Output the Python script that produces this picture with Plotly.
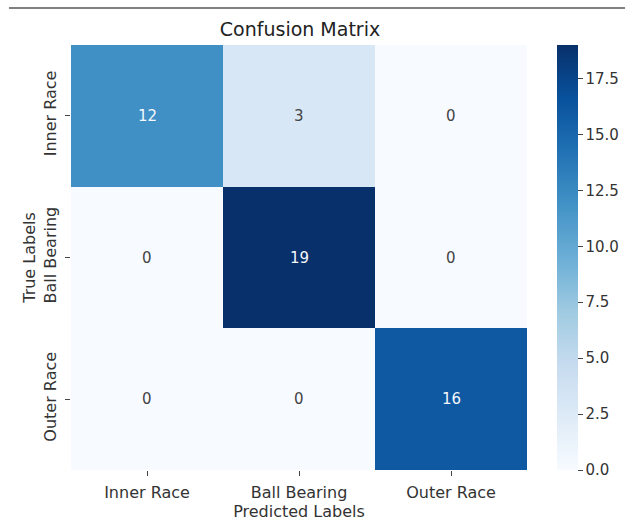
import plotly.graph_objects as go
import plotly.express as px

# Confusion matrix of the bearing fault classifier
classes = ["Inner Race", "Ball Bearing", "Outer Race"]
counts = [
    [12, 3, 0],
    [0, 19, 0],
    [0, 0, 16],
]
cbar_ticks = [0.0, 2.5, 5.0, 7.5, 10.0, 12.5, 15.0, 17.5]

zmin = 0
zmax = max(max(r) for r in counts)
blues = px.colors.sequential.Blues

W, H = 625, 527
L, R, T, B = 71, 98, 45, 57
plot_w = W - L - R
plot_h = H - T - B

fig = go.Figure(
    go.Heatmap(
        z=counts,
        x=classes,
        y=classes,
        colorscale=blues,
        zmin=zmin,
        zmax=zmax,
        hoverinfo="skip",
        colorbar=dict(
            x=(557 - L) / plot_w,
            xanchor="left",
            xpad=0,
            ypad=0,
            y=0.5,
            yanchor="middle",
            len=1.0,
            lenmode="fraction",
            thickness=21,
            outlinewidth=0,
            tickvals=cbar_ticks,
            ticktext=[f"{v:.1f}" for v in cbar_ticks],
            ticks="outside",
            ticklen=5,
            tickcolor="#444",
            tickfont=dict(family="DejaVu Sans", size=15, color="#333"),
        ),
    )
)

# Cell counts, light text on dark cells and dark text on light cells
for i, row in enumerate(counts):
    for j, v in enumerate(row):
        frac = (v - zmin) / (zmax - zmin)
        fig.add_annotation(
            x=classes[j],
            y=classes[i],
            text=str(v),
            showarrow=False,
            font=dict(
                family="DejaVu Sans",
                size=15,
                color="#f4f8fc" if frac > 0.5 else "#444",
            ),
        )

# Thin rule along the top of the figure
rule_y = 1 + (T - 8) / plot_h
fig.add_shape(
    type="line",
    xref="paper",
    yref="paper",
    x0=(9 - L) / plot_w,
    x1=(W - L) / plot_w,
    y0=rule_y,
    y1=rule_y,
    line=dict(color="#808080", width=2),
)

fig.update_layout(
    width=W,
    height=H,
    margin=dict(l=L, r=R, t=T, b=B, autoexpand=False),
    paper_bgcolor="white",
    plot_bgcolor="white",
    font=dict(family="DejaVu Sans", size=16, color="#333"),
    title=dict(
        text="Confusion Matrix",
        x=300 / W,
        xanchor="center",
        y=1 - 29 / H,
        yanchor="middle",
        font=dict(family="DejaVu Sans", size=19, color="#222"),
    ),
    xaxis=dict(
        title=dict(text="Predicted Labels", standoff=2,
                   font=dict(size=16, color="#333")),
        ticks="outside",
        ticklen=5,
        tickcolor="#444",
        ticklabelstandoff=3,
        showgrid=False,
        zeroline=False,
        tickfont=dict(size=16, color="#333"),
    ),
    yaxis=dict(
        title=dict(text="True Labels", standoff=0,
                   font=dict(size=16, color="#333")),
        autorange="reversed",
        ticks="outside",
        ticklen=5,
        tickcolor="#444",
        ticklabelstandoff=3,
        showgrid=False,
        zeroline=False,
        tickangle=-90,
        tickfont=dict(size=16, color="#333"),
    ),
)

fig.write_html("out.html")
